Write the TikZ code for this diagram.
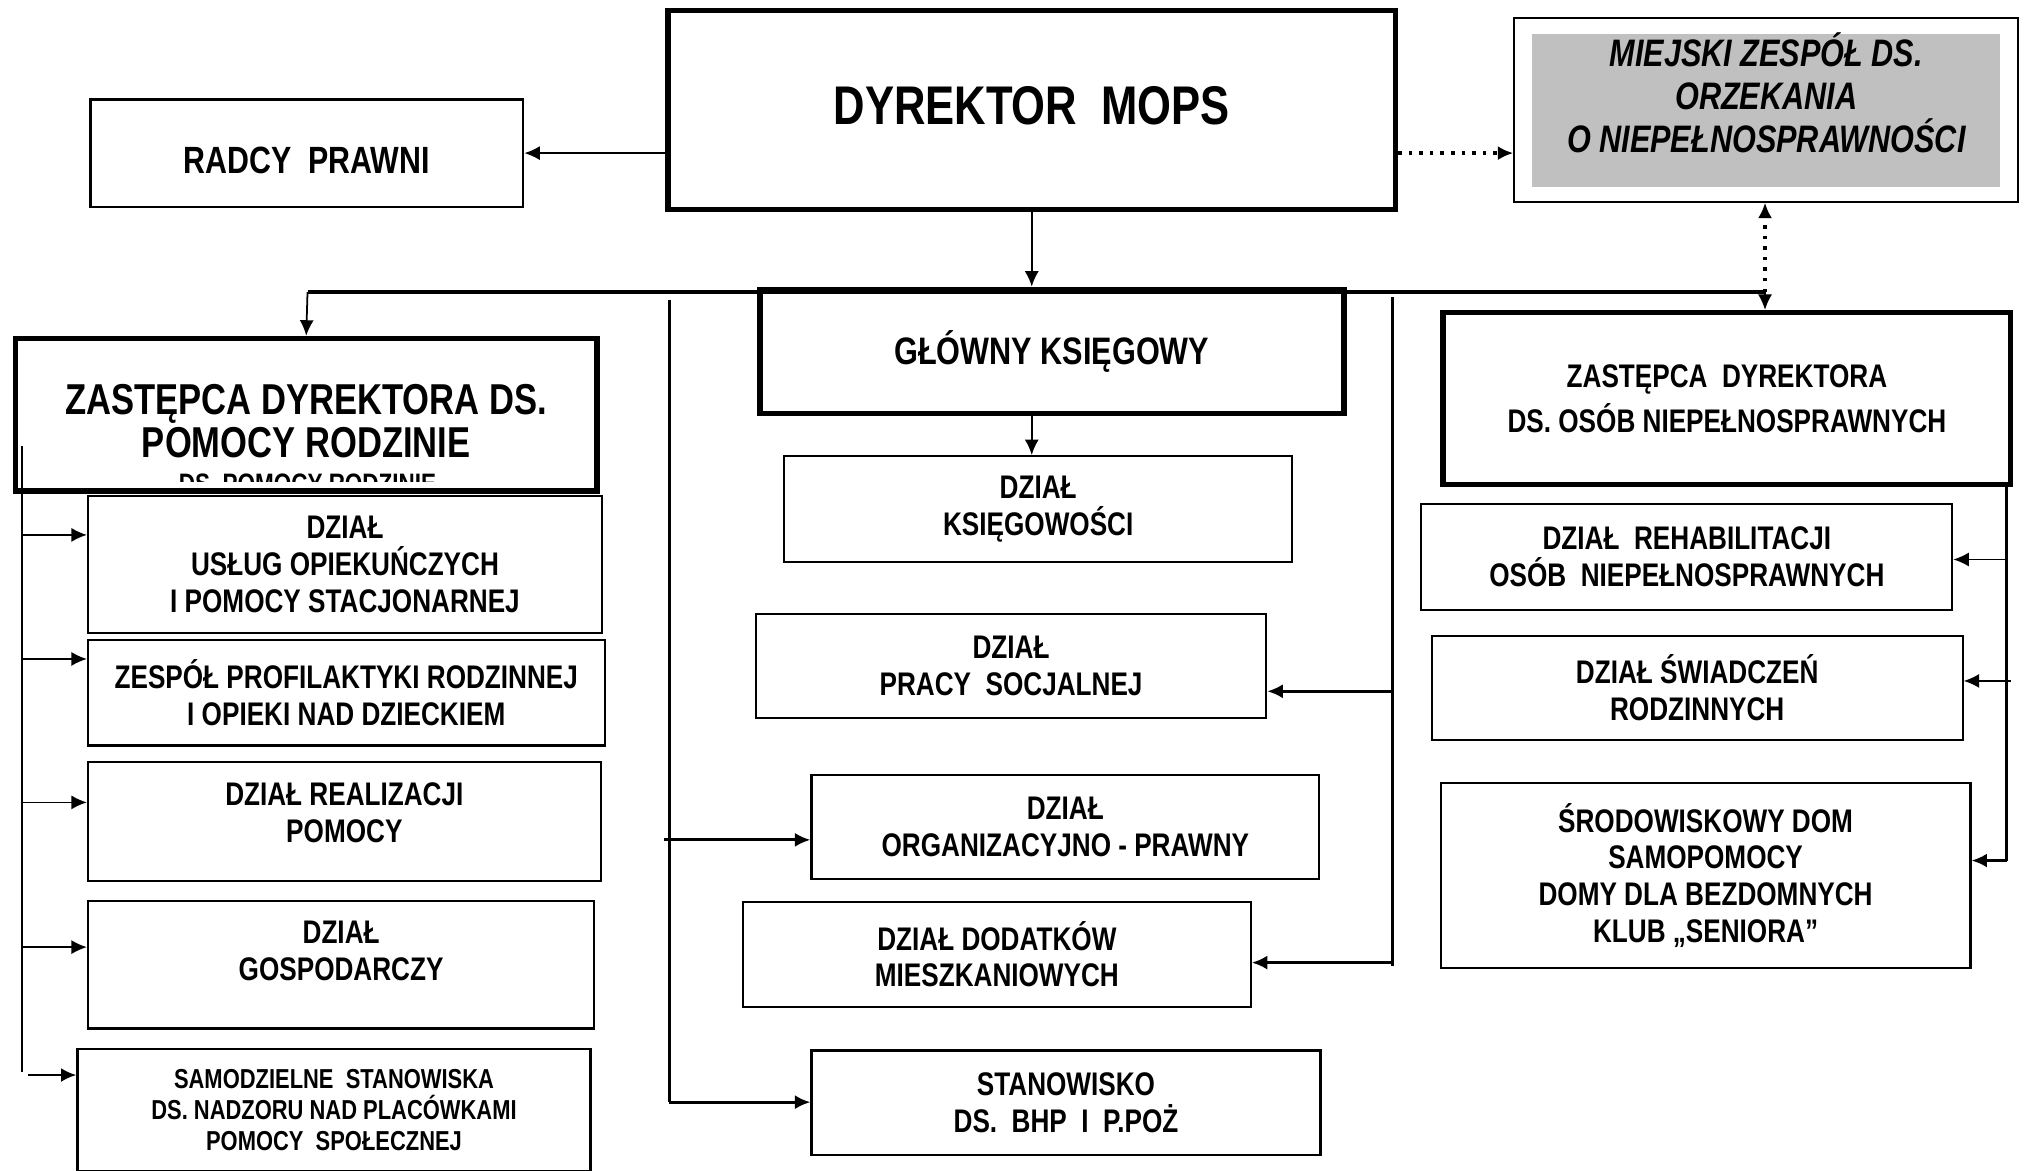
\documentclass[tikz,border=0pt]{standalone}
\usepackage{fontspec}
\setmainfont{Liberation Sans}[FakeStretch=0.8]
\usetikzlibrary{arrows.meta}
\tikzset{>={Latex[length=4.4pt,width=4pt]}}
\definecolor{zespolgray}{HTML}{C0C0C0}

\begin{document}
\begin{tikzpicture}[x=0.01292cm, y=-0.01292cm,
        spot/.style n args={4}{at={({(#1+#3)/2},{(#2+#4)/2})}, minimum width={(#3-#1)*0.01292cm}, minimum height={(#4-#2)*0.01292cm}},
        box/.style={draw, line width=0.6pt, inner sep=0pt, align=center, font=\bfseries\fontsize{9.3}{10.5}\selectfont},
        headbox/.style={box, line width=1.6pt},
        link/.style={->, line width=0.5pt},
        dotlink/.style={->, dotted, line width=1pt},
        spine/.style={line width=0.8pt}]
    \useasboundingbox (0,0) rectangle (1568,906);

    \fill[zespolgray] (1186,26) rectangle (1548,145);
    \node[box, spot={1172}{14}{1562}{156}, text depth=9.7pt, font=\bfseries\itshape\fontsize{10.9}{12.2}\selectfont] (zespol) {MIEJSKI ZESPÓŁ DS.\\ ORZEKANIA\\ O NIEPEŁNOSPRAWNOŚCI};
    \node[headbox, spot={517}{8}{1080}{162}, text depth=2.2pt, font=\bfseries\fontsize{15.5}{18}\selectfont] (dyr) {DYREKTOR\ \ MOPS};
    \node[box, spot={70}{77}{405}{160}, text height=11.5pt, font=\bfseries\fontsize{10.8}{12}\selectfont] (radcy) {RADCY\ \ PRAWNI};

    \node[headbox, spot={588}{224}{1040}{320}, font=\bfseries\fontsize{10.9}{12}\selectfont] (gk) {GŁÓWNY KSIĘGOWY};
    \node[headbox, spot={12}{262}{462}{380}, text height=24.3pt, font=\bfseries\fontsize{12.3}{11}\selectfont] (zpr) {ZASTĘPCA DYREKTORA DS.\\ POMOCY RODZINIE};
    \begin{scope}
        \clip (100,360) rectangle (420,373);
        \node[anchor=base, inner sep=0pt, font=\bfseries\fontsize{8}{9}\selectfont] (zprcut) at (238,382) {DS. POMOCY RODZINIE};
    \end{scope}
    \node[headbox, spot={1117}{242}{1556}{375}, font=\bfseries\fontsize{9.3}{12.9}\selectfont] (zon) {ZASTĘPCA\ \ DYREKTORA\\ DS. OSÓB NIEPEŁNOSPRAWNYCH};

    \node[box, spot={68}{384}{466}{490}] (usl) {DZIAŁ\\ USŁUG OPIEKUŃCZYCH\\ I POMOCY STACJONARNEJ};
    \node[box, spot={68}{495}{468}{577}] (prof) {ZESPÓŁ PROFILAKTYKI RODZINNEJ\\ I OPIEKI NAD DZIECKIEM};
    \node[box, spot={68}{590}{465}{682}, text depth=5pt] (real) {DZIAŁ REALIZACJI\\ POMOCY};
    \node[box, spot={68}{697}{460}{796}, text depth=8pt] (gosp) {DZIAŁ\\ GOSPODARCZY};
    \node[box, spot={60}{812}{457}{906}, font=\bfseries\fontsize{7.8}{8.8}\selectfont] (samo) {SAMODZIELNE\ \ STANOWISKA\\ DS. NADZORU NAD PLACÓWKAMI\\ POMOCY\ \ SPOŁECZNEJ};

    \node[box, spot={607}{353}{1000}{435}] (ksieg) {DZIAŁ\\ KSIĘGOWOŚCI};
    \node[box, spot={585}{475}{980}{556}] (prac) {DZIAŁ\\ PRACY\ \ SOCJALNEJ};
    \node[box, spot={628}{600}{1021}{680}] (org) {DZIAŁ\\ ORGANIZACYJNO - PRAWNY};
    \node[box, spot={575}{698}{968}{779}] (dod) {DZIAŁ DODATKÓW\\ MIESZKANIOWYCH};
    \node[box, spot={628}{813}{1022}{894}] (stan) {STANOWISKO\\ DS.\ \ BHP\ \ I\ \ P.POŻ};

    \node[box, spot={1100}{390}{1511}{472}] (reh) {DZIAŁ\ \ REHABILITACJI\\ OSÓB\ \ NIEPEŁNOSPRAWNYCH};
    \node[box, spot={1108}{492}{1519}{573}] (swi) {DZIAŁ ŚWIADCZEŃ\\ RODZINNYCH};
    \node[box, spot={1115}{606}{1525}{749}] (sdom) {ŚRODOWISKOWY DOM\\ SAMOPOMOCY\\ DOMY DLA BEZDOMNYCH\\ KLUB „SENIORA”};

    % top level
    \draw[link] (dyr.west |- radcy.east) -- (radcy.east);
    \draw[dotlink] (dyr.east |- radcy.east) -- (zespol.west |- radcy.east);
    \draw[link] (dyr.south) -- (dyr.south |- gk.north);
    \coordinate (busl) at (238,226);
    \coordinate (busr) at (1366,226);
    \draw[line width=1pt] (busl) -- (busr);
    \draw[link] (busl) -- (zpr.north);
    \draw[dotlink] (busr) -- (busr |- zespol.south);
    \draw[link] (busr) -- (busr |- zon.north);
    \draw[link] (dyr.south |- gk.south) -- (dyr.south |- ksieg.north);

    % left column
    \coordinate (ltop) at (17,345);
    \coordinate (lbot) at (17,830);
    \draw[spine] (ltop) -- (lbot);
    \coordinate (l1) at (17,414);
    \coordinate (l2) at (17,510);
    \coordinate (l3) at (17,621);
    \coordinate (l4) at (17,733);
    \coordinate (l5) at (22,832);
    \draw[link, line width=0.4pt] (l1) -- (l1 -| usl.west);
    \draw[link, line width=0.4pt] (l2) -- (l2 -| prof.west);
    \draw[link, line width=0.4pt] (l3) -- (l3 -| real.west);
    \draw[link, line width=0.4pt] (l4) -- (l4 -| gosp.west);
    \draw[link, line width=0.8pt] (l5) -- (l5 -| samo.west);

    % middle column
    \coordinate (mltop) at (518,232);
    \coordinate (mlbot) at (518,853);
    \draw[spine] (mltop) -- (mlbot);
    \coordinate (m1) at (514,650);
    \draw[link, line width=0.8pt] (m1) -- (m1 -| org.west);
    \draw[link, line width=0.8pt] (mlbot) -- (mlbot -| stan.west);
    \coordinate (mrtop) at (1078,230);
    \coordinate (mrbot) at (1078,748);
    \draw[spine] (mrtop) -- (mrbot);
    \coordinate (m2) at (1078,535);
    \coordinate (m3) at (1078,745);
    \draw[link, line width=0.8pt] (m2) -- (m2 -| prac.east);
    \draw[link, line width=0.8pt] (m3) -- (m3 -| dod.east);

    % right column
    \coordinate (rtop) at (1553,375);
    \coordinate (rbot) at (1553,666);
    \draw[spine] (rtop) -- (rbot);
    \coordinate (r1) at (1553,433);
    \coordinate (r2) at (1556,527);
    \draw[link, line width=0.4pt] (r1) -- (r1 -| reh.east);
    \draw[link, line width=0.4pt] (r2) -- (r2 -| swi.east);
    \draw[link, line width=0.8pt] (rbot) -- (rbot -| sdom.east);
\end{tikzpicture}
\end{document}
